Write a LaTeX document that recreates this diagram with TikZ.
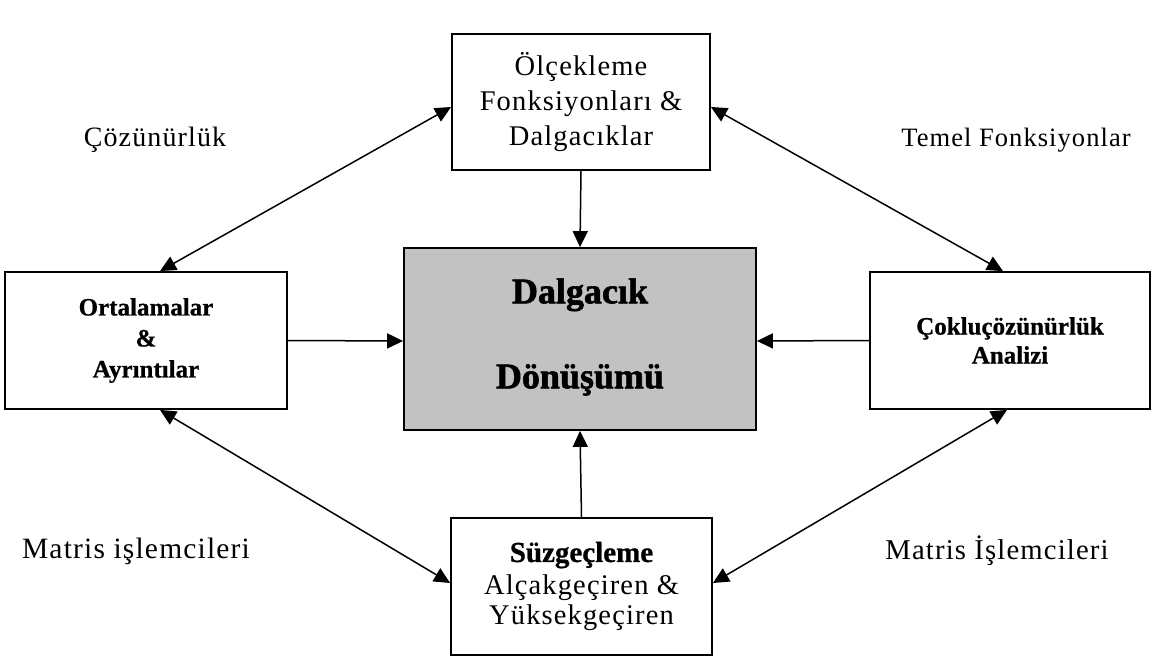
\documentclass[tikz,border=0pt]{standalone}
\usepackage{fontspec}
\setmainfont{Liberation Serif}
\newfontfamily\wide[LetterSpace=4]{Liberation Serif}
\newfontfamily\thick[FakeBold=1.6]{Liberation Serif Bold}
\newfontfamily\semithick[FakeBold=0.8]{Liberation Serif Bold}
\usetikzlibrary{arrows.meta}
\begin{document}
\begin{tikzpicture}[x=1pt,y=-1pt,
  box/.style={draw=black,line width=1.8pt,fill=white,align=center,inner sep=0pt},
  tip/.tip={Triangle[length=16pt,width=15pt]},
  conn/.style={line width=1.5pt,-tip},
  both/.style={line width=1.5pt,tip-tip},
  lbl/.style={inner sep=0pt}]
\useasboundingbox (0,0) rectangle (1154,660);
\fill[white] (0,0) rectangle (1154,660);

% boxes
\node[box,minimum width=258pt,minimum height=136pt,
      font=\wide\fontsize{28.5}{35}\selectfont] (top) at (581,102)
  {Ölçekleme\\Fonksiyonları \&\\Dalgacıklar};
\node[box,fill=black!24,minimum width=352pt,minimum height=182pt,
      font=\thick\fontsize{36}{85}\selectfont] (dt) at (580,339)
  {\raisebox{4pt}[0pt][0pt]{\begin{tabular}{@{}c@{}}Dalgacık\\Dönüşümü\end{tabular}}};
\node[box,minimum width=282pt,minimum height=137pt,
      font=\semithick\fontsize{25}{31}\selectfont] (ort) at (146,340.5)
  {Ortalamalar\\\&\\Ayrıntılar};
\node[box,minimum width=280pt,minimum height=137pt,
      font=\semithick\fontsize{25}{29}\selectfont] (cok) at (1010,340.5)
  {Çokluçözünürlük\\Analizi};
\node[box,minimum width=261pt,minimum height=137pt,
      font=\wide\fontsize{28.5}{33}\selectfont] (suz) at (581.5,586.5)
  {{\semithick\fontsize{29}{33}\selectfont Süzgeçleme}\\Alçakgeçiren \&\\[-3pt]Yüksekgeçiren};

% labels
\node[lbl,font=\wide\fontsize{28}{30}\selectfont] (l1) at (155,140) {Çözünürlük};
\node[lbl,font=\wide\fontsize{26.5}{30}\selectfont] (l2) at (1016,140) {Temel Fonksiyonlar};
\node[lbl,font=\wide\fontsize{29.5}{30}\selectfont] (l3) at (136,551) {Matris işlemcileri};
\node[lbl,font=\wide\fontsize{28.7}{30}\selectfont] (l4) at (997,551) {Matris İşlemcileri};

% connectors into the transform
\draw[conn] (top.south) -- (dt.north);
\draw[conn] (suz.north) -- (dt.south);
\draw[conn] (ort.east) -- ([yshift=-2pt]dt.west);
\draw[conn] (cok.west) -- ([yshift=-2pt]dt.east);

% two-way links around the ring
\draw[both] ([xshift=14pt]ort.north) -- ([yshift=-5pt]top.west);
\draw[both] ([yshift=-5pt]top.east) -- ([xshift=-7pt]cok.north);
\draw[both] ([xshift=14pt]ort.south) -- ([yshift=3.5pt]suz.west);
\draw[both] ([xshift=-3pt]cok.south) -- ([yshift=3.5pt]suz.east);
\end{tikzpicture}
\end{document}
